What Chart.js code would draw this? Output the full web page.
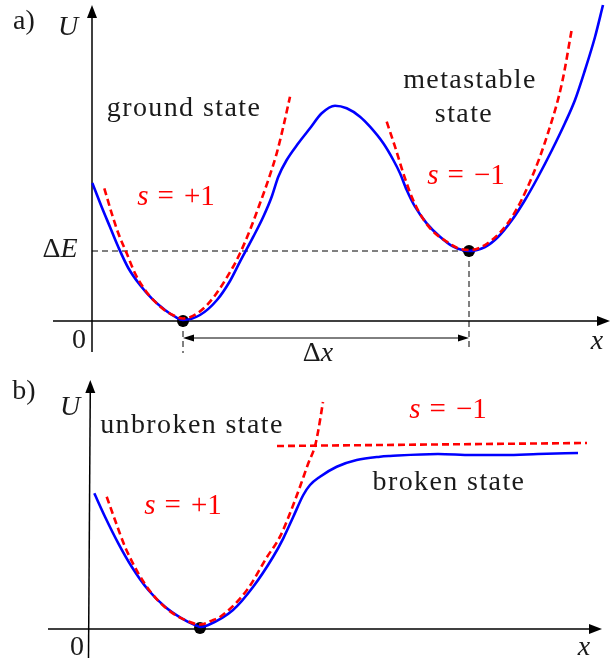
<!DOCTYPE html>
<html><head><meta charset="utf-8">
<script src="https://cdn.jsdelivr.net/npm/chart.js@4.4.0/dist/chart.umd.min.js"></script>
<style>
body{margin:0;background:#fff;width:610px;height:666px;overflow:hidden;position:relative}
canvas{position:absolute;left:0}
</style></head>
<body>
<canvas id="ca" width="610" height="370" style="top:0"></canvas>
<canvas id="cb" width="610" height="296" style="top:370px"></canvas>
<script>
// ---------- panel a) double-well potential ----------
const aPotential = [[0.003,1.38],[0.097,1.14],[0.18,0.94],[0.263,0.74],[0.363,0.53],[0.48,0.36],[0.597,0.227],[0.73,0.11],[0.83,0.043],[0.91,0.01],[1.08,0.06],[1.25,0.21],[1.38,0.40],[1.48,0.593],[1.613,0.843],[1.713,1.043],[1.797,1.243],[1.863,1.443],[1.947,1.61],[2.063,1.777],[2.18,1.927],[2.297,2.077],[2.43,2.153],[2.547,2.127],[2.68,2.043],[2.78,1.943],[2.913,1.777],[3.013,1.61],[3.08,1.477],[3.147,1.31],[3.23,1.143],[3.347,0.977],[3.48,0.843],[3.613,0.743],[3.77,0.70],[3.93,0.74],[4.06,0.84],[4.20,1.01],[4.33,1.21],[4.46,1.44],[4.60,1.71],[4.73,1.98],[4.83,2.21],[4.93,2.51],[5.03,2.84],[5.11,3.16]];
const aGroundFit = [[0.123,1.327],[0.197,1.077],[0.263,0.877],[0.347,0.677],[0.43,0.477],[0.53,0.31],[0.63,0.193],[0.747,0.093],[0.847,0.043],[0.91,0.025],[1.15,0.16],[1.41,0.54],[1.48,0.677],[1.58,0.91],[1.68,1.177],[1.763,1.41],[1.847,1.677],[1.913,1.943],[1.98,2.243]];
const aMetaFit = [[2.947,1.993],[3.03,1.743],[3.113,1.477],[3.197,1.243],[3.297,1.043],[3.413,0.893],[3.547,0.793],[3.663,0.727],[3.78,0.71],[4.00,0.81],[4.20,1.04],[4.40,1.44],[4.56,1.88],[4.70,2.38],[4.80,2.93]];
const aMinima = [[0.91,0.0],[3.77,0.70]];
const aDeltaE = 0.70;

// ---------- panel b) unbroken / broken ----------
const bPotential = [[0.043,1.357],[0.15,1.123],[0.283,0.857],[0.417,0.623],[0.583,0.39],[0.75,0.223],[0.917,0.107],[1.05,0.04],[1.11,0.02],[1.183,0.04],[1.43,0.19],[1.63,0.42],[1.83,0.72],[1.933,0.907],[2.033,1.123],[2.133,1.34],[2.20,1.44],[2.30,1.523],[2.467,1.623],[2.667,1.69],[2.90,1.723],[3.00,1.73],[3.48,1.75],[3.82,1.74],[4.15,1.74],[4.48,1.75],[4.88,1.76]];
const bUnbrokenFit = [[0.167,1.323],[0.25,1.09],[0.35,0.823],[0.483,0.557],[0.617,0.357],[0.783,0.19],[0.95,0.09],[1.10,0.045],[1.233,0.09],[1.30,0.12],[1.57,0.39],[1.77,0.72],[1.90,0.923],[2.00,1.157],[2.10,1.423],[2.183,1.657],[2.25,1.83],[2.28,1.97],[2.33,2.27]];
const bBrokenFit = [[1.87,1.83],[4.97,1.86]];
const bMinima = [[1.10,0.01]];

const BLUE = '#0000ff', RED = '#ff0000', INK = '#1a1a1a';
const pts = a => a.map(p => ({x:p[0], y:p[1]}));

function line(ctx,x1,y1,x2,y2){ctx.beginPath();ctx.moveTo(x1,y1);ctx.lineTo(x2,y2);ctx.stroke();}
function head(ctx,x,y,dx,dy,len,hw){
  const bx=x-dx*len, by=y-dy*len;
  ctx.beginPath();ctx.moveTo(x,y);ctx.lineTo(bx-dy*hw,by+dx*hw);ctx.lineTo(bx+dy*hw,by-dx*hw);ctx.closePath();ctx.fill();
}
function mtext(ctx, runs, cx, cy, size, color, spacing){
  let w=0;
  const f = r => (r[1]?'italic ':'')+size+'px "Liberation Serif"';
  ctx.letterSpacing = (spacing||0)+'px';
  runs.forEach(r=>{ctx.font=f(r); w+=ctx.measureText(r[0]).width + (r[2]||0);});
  let x=cx-w/2; ctx.textBaseline='middle'; ctx.textAlign='left'; ctx.fillStyle=color;
  runs.forEach(r=>{ctx.font=f(r); ctx.fillText(r[0],x,cy); x+=ctx.measureText(r[0]).width + (r[2]||0);});
  ctx.letterSpacing='0px';
}
const sPlus = [['s',true,9],['=',false,10],['+1',false,0]];
const sMinus = [['s',true,9],['=',false,10],['\u22121',false,0]];

function curve(data,color,dash,w){
  return {data:pts(data),showLine:true,borderColor:color,borderWidth:w||2.6,borderDash:dash||[],pointRadius:0,cubicInterpolationMode:'monotone',fill:false};
}

function makeChart(id, datasets, xr, yr, draw){
  return new Chart(document.getElementById(id), {
    type:'scatter',
    data:{datasets},
    options:{
      responsive:false, animation:false, devicePixelRatio:1, events:[],
      layout:{padding:0, autoPadding:false},
      plugins:{legend:{display:false},tooltip:{enabled:false}},
      scales:{x:{type:'linear',display:false,min:xr[0],max:xr[1]},y:{type:'linear',display:false,min:yr[0],max:yr[1]}}
    },
    plugins:[{id:'deco',
      beforeDatasetsDraw(c){draw(c,true);},
      afterDatasetsDraw(c){draw(c,false);}
    }]
  });
}

// panel a
makeChart('ca', [
  curve(aGroundFit,RED,[7,4],2.6),
  curve(aMetaFit,RED,[7,4],2.6),
  curve(aPotential,BLUE),
  {data:pts(aMinima),showLine:false,pointRadius:6,pointBackgroundColor:'#000',pointBorderWidth:0}
], [-0.92,5.18], [-0.49,3.21], (c,before)=>{
  const ctx=c.ctx, X=c.scales.x, Y=c.scales.y;
  const px=v=>X.getPixelForValue(v), py=v=>Y.getPixelForValue(v);
  ctx.save();
  if(before){
    ctx.strokeStyle='#000'; ctx.fillStyle='#000'; ctx.lineWidth=1.5;
    line(ctx,px(-0.39),py(0),px(5.18)-8,py(0)); head(ctx,px(5.18),py(0),1,0,13,5);
    line(ctx,px(0),py(-0.31),px(0),py(3.16)+8); head(ctx,px(0),py(3.16),0,-1,13,5);
    ctx.lineWidth=1; ctx.setLineDash([6,4]);
    line(ctx,px(0),py(aDeltaE),px(aMinima[1][0]),py(aDeltaE));
    line(ctx,px(aMinima[0][0]),py(0),px(aMinima[0][0]),py(-0.32));
    line(ctx,px(aMinima[1][0]),py(aDeltaE),px(aMinima[1][0]),py(-0.28));
    ctx.setLineDash([]);
    const ay=py(-0.17);
    line(ctx,px(aMinima[0][0])+6,ay,px(aMinima[1][0])-6,ay);
    head(ctx,px(aMinima[0][0]),ay,-1,0,11,3.5);
    head(ctx,px(aMinima[1][0]),ay,1,0,11,3.5);
  } else {
    mtext(ctx,[['a)',false]],24,22,28,INK);
    mtext(ctx,[['U',true]],68,28,28,INK);
    mtext(ctx,[['\u0394',false],['E',true]],60,250,28,INK);
    mtext(ctx,[['0',false]],79,341,28,INK);
    mtext(ctx,[['\u0394',false],['x',true]],318,354,28,INK);
    mtext(ctx,[['x',true]],597,342,28,INK);
    mtext(ctx,[['ground state',false]],184,109,28,INK,1.4);
    mtext(ctx,[['metastable',false]],470,81,28,INK,1.4);
    mtext(ctx,[['state',false]],464,115,28,INK,1.4);
    mtext(ctx,sPlus,176,197,29,RED);
    mtext(ctx,sMinus,466,176,29,RED);
  }
  ctx.restore();
});

// panel b
makeChart('cb', [
  curve(bUnbrokenFit,RED,[7,4],2.6),
  curve(bBrokenFit,RED,[7,4],2.6),
  curve(bPotential,BLUE),
  {data:pts(bMinima),showLine:false,pointRadius:6,pointBackgroundColor:'#000',pointBorderWidth:0}
], [-0.90,5.20], [-0.37,2.59], (c,before)=>{
  const ctx=c.ctx, X=c.scales.x, Y=c.scales.y;
  const px=v=>X.getPixelForValue(v), py=v=>Y.getPixelForValue(v);
  ctx.save();
  if(before){
    ctx.strokeStyle='#000'; ctx.fillStyle='#000'; ctx.lineWidth=1.5;
    line(ctx,px(-0.42),py(0),px(5.12)-8,py(0)); head(ctx,px(5.12),py(0),1,0,13,5);
    line(ctx,px(-0.015),py(-0.29),px(0.003),py(2.49)+8); head(ctx,px(0.003),py(2.49),0,-1,13,5);
  } else {
    mtext(ctx,[['b)',false]],24,22,28,INK);
    mtext(ctx,[['U',true]],70,38,28,INK);
    mtext(ctx,[['0',false]],77,278,28,INK);
    mtext(ctx,[['x',true]],584,278,28,INK);
    mtext(ctx,[['unbroken state',false]],192,56,28,INK,1.4);
    mtext(ctx,[['broken state',false]],449,113,28,INK,1.4);
    mtext(ctx,sPlus,183,136,29,RED);
    mtext(ctx,sMinus,448,40,29,RED);
  }
  ctx.restore();
});
</script>
</body></html>
